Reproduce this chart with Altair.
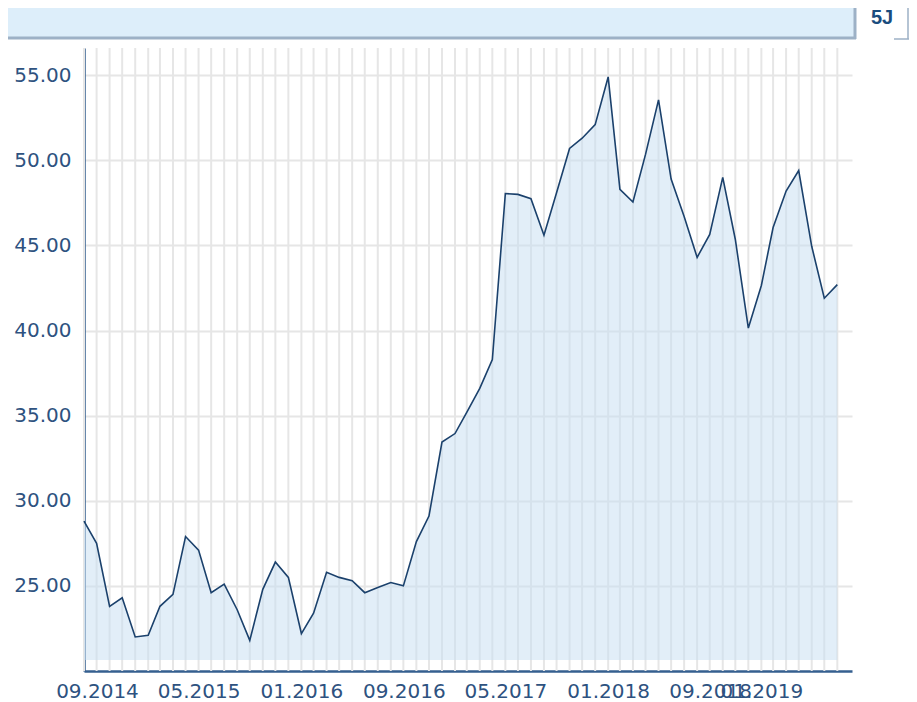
import altair as alt
import pandas as pd

# ---- data ----
months = pd.date_range("2014-09-01", periods=60, freq="MS")
prices = [28.8, 27.5, 23.8, 24.3, 22.0, 22.1, 23.8, 24.5, 27.9, 27.1,
          24.6, 25.1, 23.6, 21.8, 24.8, 26.4, 25.5, 22.2, 23.4, 25.8,
          25.5, 25.3, 24.6, 24.9, 25.2, 25.0, 27.6, 29.1, 33.45, 33.95,
          35.2, 36.6, 38.3, 48.05, 48.0, 47.75, 45.6, 48.1, 50.7, 51.3,
          52.1, 54.9, 48.3, 47.55, 50.35, 53.55, 48.9, 46.7, 44.3, 45.65,
          49.0, 45.35, 40.15, 42.65, 46.05, 48.2, 49.4, 44.95, 41.9, 42.7]
tick_labels = ["09.2014", "05.2015", "01.2016", "09.2016",
               "05.2017", "01.2018", "09.2018", "01.2019"]
y_ticks = [25, 30, 35, 40, 45, 50, 55]
period_label = "5J"

df = pd.DataFrame({"date": months, "price": prices})

W, H = 768, 623
AXIS_COL = "#355f8f"
LABEL_COL = "#2e5280"
GRID_COL = "#e6e6e6"

x_scale = alt.Scale(domain=[alt.DateTime(year=2014, month=9, date=1),
                            alt.DateTime(year=2019, month=9, date=5)])
y_scale = alt.Scale(domain=[20, 56.6], nice=False, zero=False)

x_axis = alt.Axis(
    values=[alt.DateTime(year=int(s[3:]), month=int(s[:2]), date=1) for s in tick_labels],
    format="%m.%Y", title=None, ticks=False, grid=False,
    domainColor=AXIS_COL, domainWidth=2.5,
    labelColor=LABEL_COL, labelFont="DejaVu Sans", labelFontSize=20,
    labelPadding=10, labelOffset=13, labelOverlap=False, labelFlush=False,
    labelBound=False,
)
y_axis = alt.Axis(
    values=y_ticks, format=".2f", title=None, ticks=False, grid=True,
    gridColor=GRID_COL, gridWidth=2,
    domainColor=AXIS_COL, domainWidth=2.5,
    labelColor=LABEL_COL, labelFont="DejaVu Sans", labelFontSize=20,
    labelPadding=13,
)

X = alt.X("date:T", scale=x_scale, axis=x_axis)
Y = alt.Y("price:Q", scale=y_scale, axis=y_axis)

base = alt.Chart(df)

vgrid = base.mark_rule(color=GRID_COL, strokeWidth=2).encode(
    x=X, y=alt.value(0), y2=alt.value(H))

area = base.mark_area(color="#c5ddf2", opacity=0.5).encode(
    x=X, y=Y, y2=alt.datum(20.65))

line = base.mark_line(color="#1b416c", strokeWidth=1.6).encode(x=X, y=Y)

one = pd.DataFrame({"label": [period_label]})
hdr = alt.Chart(one)
bar = hdr.mark_rect(fill="#ddeefa").encode(
    x=alt.value(-76), x2=alt.value(771), y=alt.value(-40), y2=alt.value(-11))
bar_bottom = hdr.mark_rule(color="#9db1c6", strokeWidth=3).encode(
    x=alt.value(-76), x2=alt.value(772), y=alt.value(-10))
bar_right = hdr.mark_rule(color="#9db1c6", strokeWidth=3).encode(
    x=alt.value(771), y=alt.value(-40), y2=alt.value(-9))
box_right = hdr.mark_rule(color="#9db1c6", strokeWidth=1.5).encode(
    x=alt.value(824), y=alt.value(-40), y2=alt.value(-9))
box_bottom = hdr.mark_rule(color="#9db1c6", strokeWidth=1.5).encode(
    x=alt.value(810), x2=alt.value(825), y=alt.value(-9))
txt = hdr.mark_text(font="Liberation Sans", fontWeight="bold", fontSize=20,
                    color="#1a4c7e", align="center", baseline="middle").encode(
    text="label:N", x=alt.value(798), y=alt.value(-30))

chart = alt.layer(vgrid, area, line, bar, bar_bottom, bar_right,
                  box_right, box_bottom, txt).properties(
    width=W, height=H,
    padding={"left": 76, "top": 40, "right": 57, "bottom": 30},
    autosize=alt.AutoSizeParams(type="none"),
).configure_view(stroke=None)

chart.save("out.html", embed_options={"renderer": "svg", "actions": False})
